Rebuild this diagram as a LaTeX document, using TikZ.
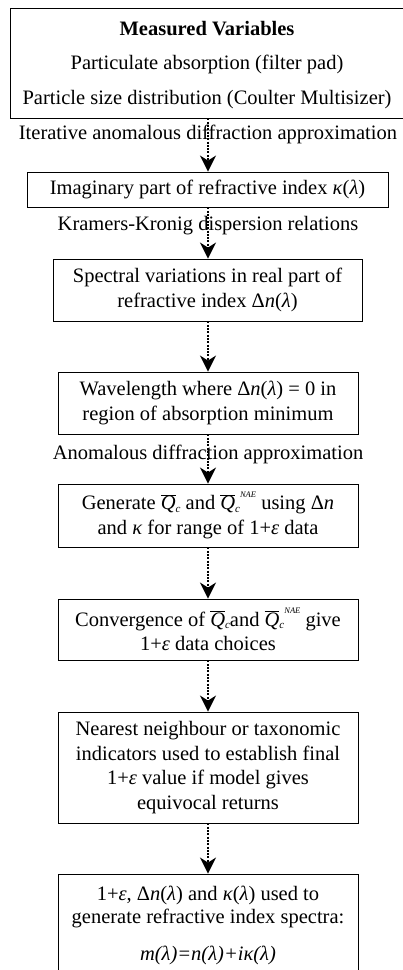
\documentclass[tikz,border=0pt]{standalone}
\usepackage{fontspec}
\setmainfont{Liberation Serif}
\usetikzlibrary{arrows.meta}
\newcommand{\qbar}{\mbox{$\overline{\mbox{\itshape Q}}$}\raisebox{-0.3ex}{\fontsize{11}{11}\selectfont\itshape c}}
\newcommand{\qnae}{\mbox{$\overline{\mbox{\itshape Q}}$}\raisebox{-0.3ex}{\fontsize{11}{11}\selectfont\itshape c}\raisebox{1.3ex}{\fontsize{8.5}{8.5}\selectfont\itshape NAE}}
\newcommand{\kl}{\textit{κ}(\textit{λ})}
\newcommand{\dnl}{Δ\textit{n}(\textit{λ})}
\newcommand{\ope}{1+\textit{ε}}
\begin{document}
\begin{tikzpicture}[x=1pt,y=-1pt,
  font=\fontsize{20.5}{24.5}\selectfont,
  stepbox/.style={draw,line width=0.9pt,align=center,inner sep=0pt},
  conn/.style={line width=1.7pt,dash pattern=on 2pt off 1.3pt,
    -{Stealth[length=16pt,width=16pt,inset=5pt]}},
  lbl/.style={inner sep=0pt}]
\useasboundingbox (0,0) rectangle (402,970);
\fill[white] (0,0) rectangle (402,970);
\node[stepbox,minimum width=420pt,minimum height=110pt] (b1) at (220,63) {};
\node[lbl] (t1a) at (207,29) {\textbf{Measured Variables}};
\node[lbl] (t1b) at (207,64) {Particulate absorption (filter pad)};
\node[lbl] (t1c) at (207,100) {Particle size distribution (Coulter Multisizer)};
\node[lbl] (l1) at (208,134) {Iterative anomalous diffraction approximation};
\node[stepbox,minimum width=361pt,minimum height=35pt] (b2) at (207.5,189.5) {Imaginary part of refractive index \kl};
\node[lbl] (l2) at (208,226) {Kramers-Kronig dispersion relations};
\node[stepbox,minimum width=309pt,minimum height=62pt] (b3) at (207.5,290) {Spectral variations in real part of\\refractive index \dnl};
\node[stepbox,minimum width=300pt,minimum height=62pt] (b4) at (208,403) {Wavelength where \dnl\ = 0 in\\region of absorption minimum};
\node[lbl] (l3) at (208,454) {Anomalous diffraction approximation};
\node[stepbox,minimum width=300pt,minimum height=63pt] (b5) at (208,515.5) {Generate \qbar\ and \qnae\ using Δ\textit{n}\\and \textit{κ} for range of \ope\ data};
\node[stepbox,minimum width=300pt,minimum height=61pt] (b6) at (208,629.5) {Convergence of \qbar and \qnae\ give\\\ope\ data choices};
\node[stepbox,minimum width=300pt,minimum height=111pt] (b7) at (208,767.5) {Nearest neighbour or taxonomic\\indicators used to establish final\\\ope\ value if model gives\\equivocal returns};
\node[stepbox,minimum width=300pt,minimum height=130pt] (b8) at (208,939) {};
\node[lbl] (t8a) at (208,895) {\ope, \dnl\ and \kl\ used to};
\node[lbl] (t8b) at (208,918) {generate refractive index spectra:};
\node[lbl] (t8c) at (208,955) {\itshape m(λ)=n(λ)+iκ(λ)};
\draw[conn] (b1.south -| l1) -- (b2.north -| l1);
\draw[conn] (b2.south -| l1) -- (b3.north -| l1);
\draw[conn] (b3.south -| l1) -- (b4.north -| l1);
\draw[conn] (b4.south -| l1) -- (b5.north -| l1);
\draw[conn] (b5.south -| l1) -- (b6.north -| l1);
\draw[conn] (b6.south -| l1) -- (b7.north -| l1);
\draw[conn] (b7.south -| l1) -- (b8.north -| l1);
\end{tikzpicture}
\end{document}
